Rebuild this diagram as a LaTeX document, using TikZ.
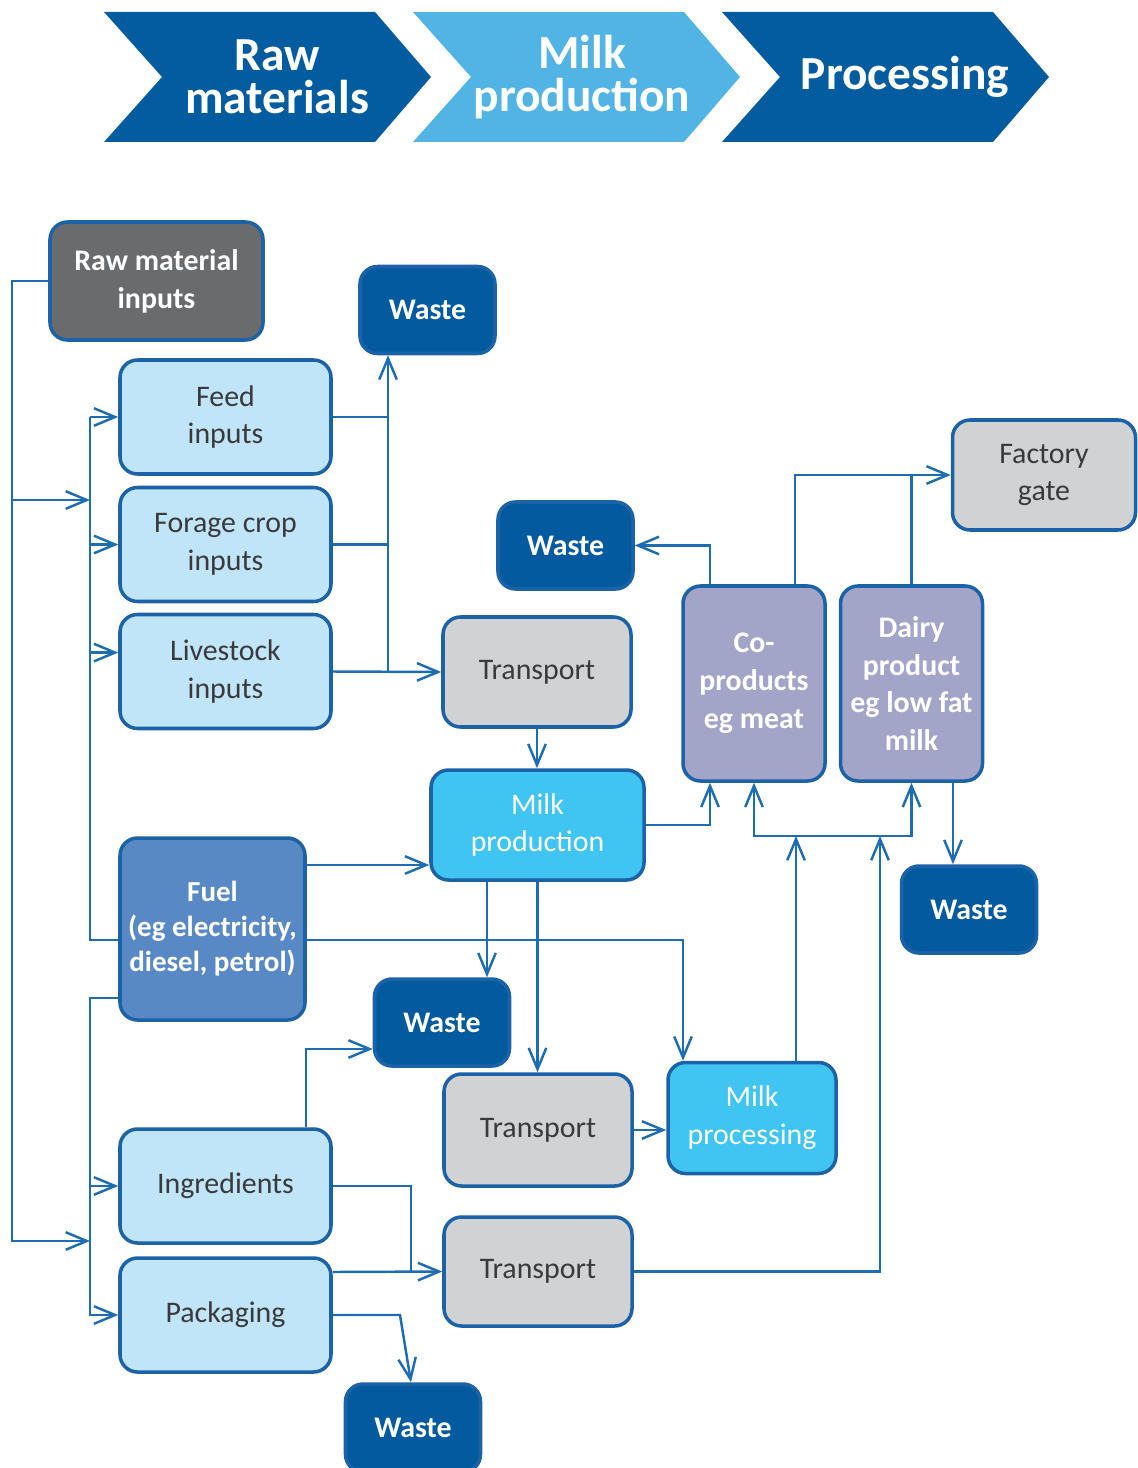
\documentclass[tikz,border=0pt]{standalone}
\usepackage{fontspec}
\setmainfont{Carlito}
\usetikzlibrary{arrows.meta}

\definecolor{edgeblue}{RGB}{28,98,166}
\definecolor{lineblue}{RGB}{30,108,178}
\definecolor{stagedark}{RGB}{4,92,160}
\definecolor{stagelight}{RGB}{82,180,229}
\definecolor{wastefill}{RGB}{4,90,158}
\definecolor{rawfill}{RGB}{106,107,109}
\definecolor{inputfill}{RGB}{192,229,249}
\definecolor{greyfill}{RGB}{209,210,212}
\definecolor{prodfill}{RGB}{162,164,200}
\definecolor{milkfill}{RGB}{64,196,241}
\definecolor{fuelfill}{RGB}{88,137,196}
\definecolor{darktext}{RGB}{58,58,60}

\begin{document}
\begin{tikzpicture}[
  >={Straight Barb[length=12pt,width=10pt]},
  flow/.style={draw=lineblue, line width=1.4pt},
  box/.style={draw=edgeblue, line width=2pt, rounded corners=0.35cm, align=center, inner sep=0pt,
    font=\fontsize{17}{21.5}\selectfont},
  input/.style={box, fill=inputfill, text=darktext, minimum width=4.22cm, minimum height=2.28cm},
  waste/.style={box, fill=wastefill, text=white, font=\fontsize{17}{21.5}\selectfont\bfseries,
    minimum width=2.70cm, minimum height=1.74cm},
  transport/.style={box, fill=greyfill, text=darktext, minimum width=3.76cm, minimum height=2.20cm},
  milk/.style={box, fill=milkfill, text=white},
  product/.style={box, fill=prodfill, text=white, font=\fontsize{17}{21.5}\selectfont\bfseries,
    minimum width=2.84cm, minimum height=3.90cm},
  stage/.style={text=white, align=center, font=\fontsize{27}{24.5}\selectfont\bfseries}
]
\useasboundingbox (0,0) rectangle (22.74,-29.36);

% stages along the top
\fill[stagedark] (2.08,-0.24) -- (7.50,-0.24) -- (8.62,-1.54) -- (7.50,-2.84) -- (2.08,-2.84) -- (3.24,-1.54) -- cycle;
\fill[stagelight] (8.26,-0.24) -- (13.68,-0.24) -- (14.80,-1.54) -- (13.68,-2.84) -- (8.26,-2.84) -- (9.42,-1.54) -- cycle;
\fill[stagedark] (14.44,-0.24) -- (19.86,-0.24) -- (20.98,-1.54) -- (19.86,-2.84) -- (14.44,-2.84) -- (15.60,-1.54) -- cycle;
\node[stage] (rawstage) at (5.54,-1.54) {Raw\\materials};
\node[stage] (milkstage) at (11.64,-1.54) {Milk\\production};
\node[stage] (procstage) at (18.10,-1.54) {Processing};

% boxes
\node[box, fill=rawfill, text=white, font=\fontsize{17}{21.5}\selectfont\bfseries,
  minimum width=4.26cm, minimum height=2.36cm] (rawin) at (3.13,-5.62) {Raw material\\inputs};
\node[waste] (waste1) at (8.55,-6.20) {Waste};
\node[input] (feed) at (4.51,-8.34) {Feed\\inputs};
\node[input] (forage) at (4.51,-10.89) {Forage crop\\inputs};
\node[input] (livestock) at (4.51,-13.43) {Livestock\\inputs};
\node[waste] (waste2) at (11.31,-10.91) {Waste};
\node[transport] (trans1) at (10.74,-13.44) {Transport};
\node[product] (coprod) at (15.08,-13.67) {Co-\\products\\eg meat};
\node[product] (dairy) at (18.23,-13.67) {Dairy\\product\\eg low fat\\milk};
\node[transport, minimum width=3.66cm] (gate) at (20.88,-9.50) {Factory\\gate};
\node[milk, minimum width=4.26cm, minimum height=2.20cm] (milkprod) at (10.75,-16.50) {Milk\\production};
\node[box, fill=fuelfill, text=white, font=\fontsize{16.5}{19.9}\selectfont\bfseries,
  minimum width=3.70cm, minimum height=3.64cm] (fuel) at (4.25,-18.58) {Fuel\\(eg electricity,\\diesel, petrol)};
\node[waste] (waste3) at (19.38,-18.19) {Waste};
\node[waste] (waste4) at (8.84,-20.45) {Waste};
\node[transport, minimum height=2.24cm] (trans2) at (10.76,-22.60) {Transport};
\node[milk, minimum width=3.36cm, minimum height=2.22cm] (milkproc) at (15.04,-22.36) {Milk\\processing};
\node[input] (ingred) at (4.51,-23.72) {Ingredients};
\node[transport, minimum height=2.18cm] (trans3) at (10.76,-25.43) {Transport};
\node[input] (packag) at (4.51,-26.30) {Packaging};
\node[waste, minimum height=1.76cm] (waste5) at (8.26,-28.56) {Waste};

% joints
\coordinate (lbus) at (0.24,0);
\coordinate (rbus) at (1.80,0);
\coordinate (wbus) at (7.76,0);
\coordinate (ibus) at (8.22,0);
\coordinate (tup) at (17.60,0);
\coordinate (bar) at (0,-16.72);
\coordinate (lmid) at (0.24,-10.00);
\coordinate (lbot) at (0.24,-24.82);
\coordinate (fuelup) at ([yshift=1.28cm]fuel.east);
\coordinate (fuelmid) at ([yshift=-0.22cm]fuel.east);
\coordinate (fuelL) at ([yshift=-0.22cm]fuel.west);
\coordinate (fuelLL) at ([yshift=-1.38cm]fuel.west);
\coordinate (coin) at ([xshift=-0.88cm]coprod.south);
\coordinate (coout) at ([xshift=-0.88cm]coprod.north);
\coordinate (cogate) at ([xshift=0.82cm]coprod.north);
\coordinate (dairyout) at ([xshift=0.83cm]dairy.south);
\coordinate (prodwaste) at ([xshift=-1.01cm]milkprod.south);
\coordinate (procin) at ([xshift=-1.38cm]milkproc.north);
\coordinate (procup) at ([xshift=0.88cm]milkproc.north);
\coordinate (ingup) at ([xshift=1.61cm]ingred.north);
\coordinate (w4in) at ([yshift=-0.53cm]waste4.west);
\coordinate (packin) at ([yshift=0.86cm]packag.east);
\coordinate (packbend) at (8.00,-26.30);

% raw material inputs
\draw[flow,->] (rawin.west) -| (lbot) -- (lbot -| rbus);
\draw[flow,->] (lmid) -- (lmid -| rbus);
\draw[flow] (rbus |- feed.west) -- (rbus |- fuelL) -- (fuelL);
\draw[flow,->] (rbus |- feed.west) -- (feed.west);
\draw[flow,->] (rbus |- forage.west) -- (forage.west);
\draw[flow,->] (rbus |- livestock.170) -- (livestock.170);
\draw[flow,->] (fuelLL) -| (rbus |- packag.west) -- (packag.west);
\draw[flow,->] (rbus |- ingred.west) -- (ingred.west);

% milk production
\draw[flow] (feed.east) -- (wbus |- feed.east);
\draw[flow] (forage.east) -- (wbus |- forage.east);
\draw[flow,->] (livestock.east) -- (trans1.west);
\draw[flow,->] (wbus |- livestock.east) -- (wbus |- waste1.south);
\draw[flow,->] (trans1.south) -- (trans1.south |- milkprod.north);
\draw[flow,->] (fuelup) -- (fuelup -| milkprod.west);
\draw[flow,->] (prodwaste) -- (prodwaste |- waste4.north);
\draw[flow,->] (milkprod.south) -- (milkprod.south |- trans2.north);

% processing
\draw[flow,->] (fuelmid) -| (procin);
\draw[flow,->] (trans2.east) -- (trans2.east -| milkproc.west);
\draw[flow,->] (milkprod.east) -| (coin);
\draw[flow,->] (coout) |- (waste2.east);
\draw[flow,->] (cogate) |- (gate.west);
\draw[flow] (dairy.north) -- (dairy.north |- gate.west);
\draw[flow,<->] (coprod.south) -- (coprod.south |- bar) -- (dairy.south |- bar) -- (dairy.south);
\draw[flow,->] (procup) -- (procup |- bar);
\draw[flow,->] (trans3.east) -| (tup |- bar);
\draw[flow,->] (dairyout) -- (dairyout |- waste3.north);

% ingredients and packaging
\draw[flow,->] (ingup) |- (w4in);
\draw[flow] (ingred.east) -| (ibus |- trans3.west);
\draw[flow,->] (packin) -- (trans3.west);
\draw[flow,->] (packag.east) -- (packbend) -- ([xshift=-0.04cm]waste5.north);
\end{tikzpicture}
\end{document}
